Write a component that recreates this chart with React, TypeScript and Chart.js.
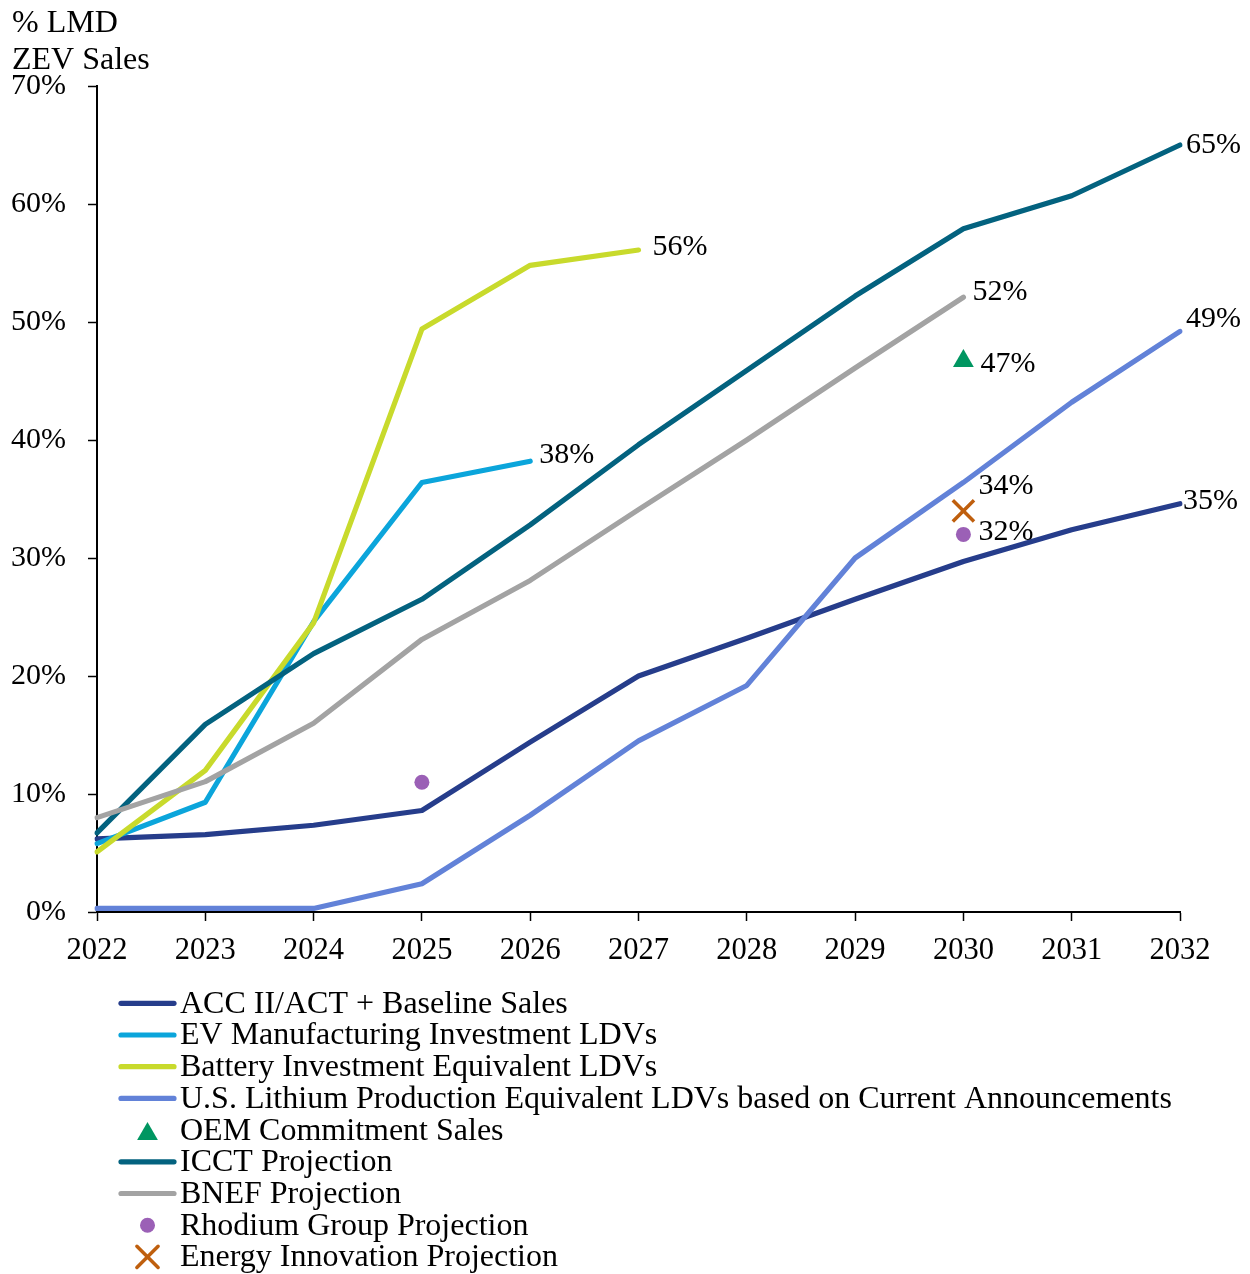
import React, { useEffect, useRef } from "react";
import { Chart, registerables } from "chart.js";
import { drawPoint } from "chart.js/helpers";

Chart.register(...registerables);

// ---------- data ----------
const YEARS = ["2022", "2023", "2024", "2025", "2026", "2027", "2028", "2029", "2030", "2031", "2032"];
const Y_TICKS = [0, 10, 20, 30, 40, 50, 60, 70];
const Y_TITLE = ["% LMD", "ZEV Sales"];

const ACC_BASELINE = [6.2, 6.55, 7.35, 8.6, 14.4, 20.0, 23.2, 26.5, 29.7, 32.4, 34.6];
const EV_MANUFACTURING = [5.8, 9.3, 24.6, 36.4, 38.2, null, null, null, null, null, null];
const BATTERY_INVESTMENT = [5.1, 12.0, 24.5, 49.4, 54.8, 56.1, null, null, null, null, null];
const LITHIUM_PRODUCTION = [0.3, 0.3, 0.3, 2.4, 8.2, 14.5, 19.2, 30.0, 36.4, 43.2, 49.2];
const OEM_COMMITMENT = [null, null, null, null, null, null, null, null, 46.7, null, null];
const ICCT_PROJECTION = [6.7, 15.9, 21.9, 26.5, 32.8, 39.6, 45.9, 52.2, 57.9, 60.7, 65.0];
const BNEF_PROJECTION = [8.0, 11.05, 16.0, 23.1, 28.1, 34.1, 40.0, 46.1, 52.1, null, null];
const RHODIUM_PROJECTION = [null, null, null, 11.0, null, null, null, null, 32.0, null, null];
const ENERGY_INNOVATION = [null, null, null, null, null, null, null, null, 34.0, null, null];

const FONT = "'Liberation Serif', 'Times New Roman', serif";

function lineDs(label: string, data: (number | null)[], color: string, endLabel?: any) {
  return {
    label,
    data,
    borderColor: color,
    backgroundColor: color,
    borderWidth: 5.2,
    borderCapStyle: "round",
    borderJoinStyle: "round",
    pointRadius: 0,
    pointHoverRadius: 0,
    tension: 0,
    spanGaps: false,
    fill: false,
    endLabel,
  };
}

function pointDs(label: string, data: (number | null)[], color: string, style: string, radius: number, bw: number, endLabel?: any) {
  return {
    label,
    data,
    showLine: false,
    borderColor: color,
    backgroundColor: color,
    pointStyle: style,
    pointRadius: radius,
    pointHoverRadius: radius,
    pointBorderWidth: bw,
    pointBorderColor: color,
    pointBackgroundColor: color,
    endLabel,
  };
}

const titlePlugin = {
  id: "yTitle",
  afterDraw(chart: any) {
    const ctx = chart.ctx;
    ctx.save();
    ctx.font = `32px ${FONT}`;
    ctx.fillStyle = "#000";
    ctx.textAlign = "left";
    ctx.textBaseline = "alphabetic";
    ctx.fillText(Y_TITLE[0], 12, 31.5);
    ctx.fillText(Y_TITLE[1], 12, 69);
    ctx.restore();
  },
};

const endLabelPlugin = {
  id: "endLabels",
  afterDatasetsDraw(chart: any) {
    const ctx = chart.ctx;
    ctx.save();
    ctx.font = `30px ${FONT}`;
    ctx.fillStyle = "#000";
    ctx.textAlign = "left";
    ctx.textBaseline = "middle";
    chart.data.datasets.forEach((ds: any, i: number) => {
      const cfg = ds.endLabel;
      if (!cfg) return;
      const el = chart.getDatasetMeta(i).data[cfg.index];
      const v = ds.data[cfg.index];
      if (!el || v == null) return;
      ctx.fillText(`${Math.round(v)}%`, el.x + cfg.dx, el.y + cfg.dy);
    });
    ctx.restore();
  },
};

const legendPlugin = {
  id: "columnLegend",
  afterDraw(chart: any) {
    const ctx = chart.ctx;
    const x0 = 121;
    const x1 = 174;
    const tx = 180;
    const y0 = 1003.3;
    const step = 31.7;
    ctx.save();
    chart.data.datasets.forEach((ds: any, i: number) => {
      const y = y0 + i * step;
      if (ds.showLine === false) {
        ctx.fillStyle = ds.pointBackgroundColor;
        ctx.strokeStyle = ds.pointBorderColor;
        ctx.lineWidth = ds.pointBorderWidth;
        let yy = y;
        if (ds.pointStyle === "triangle") yy = y + 4;
        drawPoint(ctx, { pointStyle: ds.pointStyle, rotation: 0, borderWidth: ds.pointBorderWidth, radius: ds.pointRadius }, (x0 + x1) / 2, yy);
      } else {
        ctx.strokeStyle = ds.borderColor;
        ctx.lineWidth = 5.2;
        ctx.lineCap = "round";
        ctx.beginPath();
        ctx.moveTo(x0, y);
        ctx.lineTo(x1, y);
        ctx.stroke();
      }
      ctx.fillStyle = "#000";
      ctx.font = `32px ${FONT}`;
      ctx.textAlign = "left";
      ctx.textBaseline = "middle";
      ctx.fillText(ds.label, tx, y + 1);
    });
    ctx.restore();
  },
};

export default function App() {
  const ref = useRef<HTMLCanvasElement | null>(null);

  useEffect(() => {
    if (!ref.current) return;
    const datasets: any[] = [
      lineDs("ACC II/ACT + Baseline Sales", ACC_BASELINE, "#263D8B", { index: 10, dx: 3, dy: -3 }),
      lineDs("EV Manufacturing Investment LDVs", EV_MANUFACTURING, "#0BA5DB", { index: 4, dx: 9, dy: -6 }),
      lineDs("Battery Investment Equivalent LDVs", BATTERY_INVESTMENT, "#C8DA2C", { index: 5, dx: 14, dy: -3 }),
      lineDs("U.S. Lithium Production Equivalent LDVs based on Current Announcements", LITHIUM_PRODUCTION, "#6282D8", { index: 10, dx: 6, dy: -12 }),
      pointDs("OEM Commitment Sales", OEM_COMMITMENT, "#009661", "triangle", 12, 0, { index: 8, dx: 17, dy: 3 }),
      lineDs("ICCT Projection", ICCT_PROJECTION, "#03627F", { index: 10, dx: 6, dy: 0 }),
      lineDs("BNEF Projection", BNEF_PROJECTION, "#A3A3A3", { index: 8, dx: 9, dy: -5 }),
      pointDs("Rhodium Group Projection", RHODIUM_PROJECTION, "#9B60B6", "circle", 7.5, 0, { index: 8, dx: 15, dy: -2 }),
      pointDs("Energy Innovation Projection", ENERGY_INNOVATION, "#BF5F0E", "crossRot", 15, 3.5, { index: 8, dx: 15, dy: -25 }),
    ];
    datasets.forEach((d, i) => (d.order = 100 - i));

    const chart = new Chart(ref.current, {
      type: "line",
      data: { labels: YEARS, datasets },
      options: {
        responsive: false,
        animation: false,
        devicePixelRatio: 1,
        layout: { padding: { left: 0, right: 70, top: 86, bottom: 302 } },
        plugins: {
          legend: { display: false },
          tooltip: { enabled: false },
          title: { display: false },
        },
        scales: {
          x: {
            type: "category",
            offset: false,
            afterFit(scale: any) {
              scale.height = 60;
            },
            grid: {
              display: true,
              drawOnChartArea: false,
              drawTicks: true,
              tickLength: 9,
              tickWidth: 1.5,
              tickColor: "#000",
              color: "#000",
              offset: false,
            },
            border: { display: true, color: "#000", width: 2 },
            ticks: {
              color: "#000",
              font: { family: FONT, size: 30.5 },
              padding: 12,
              maxRotation: 0,
              autoSkip: false,
            },
          },
          y: {
            type: "linear",
            min: 0,
            max: 70,
            afterFit(scale: any) {
              scale.width = 97;
            },
            afterBuildTicks(scale: any) {
              scale.ticks = Y_TICKS.map((v) => ({ value: v }));
            },
            grid: {
              display: true,
              drawOnChartArea: false,
              drawTicks: true,
              tickLength: 9,
              tickWidth: 1.5,
              tickColor: "#000",
              color: "#000",
            },
            border: { display: true, color: "#000", width: 2 },
            ticks: {
              color: "#000",
              font: { family: FONT, size: 30 },
              padding: 22,
              callback: (v: any) => `${v}%`,
            },
          },
        },
      },
      plugins: [titlePlugin, endLabelPlugin, legendPlugin],
    } as any);

    return () => chart.destroy();
  }, []);

  return (
    <div style={{ position: "absolute", left: 0, top: 0, width: 1250, height: 1274, background: "#fff" }}>
      <canvas ref={ref} width={1250} height={1274} style={{ width: 1250, height: 1274, display: "block" }} />
    </div>
  );
}
